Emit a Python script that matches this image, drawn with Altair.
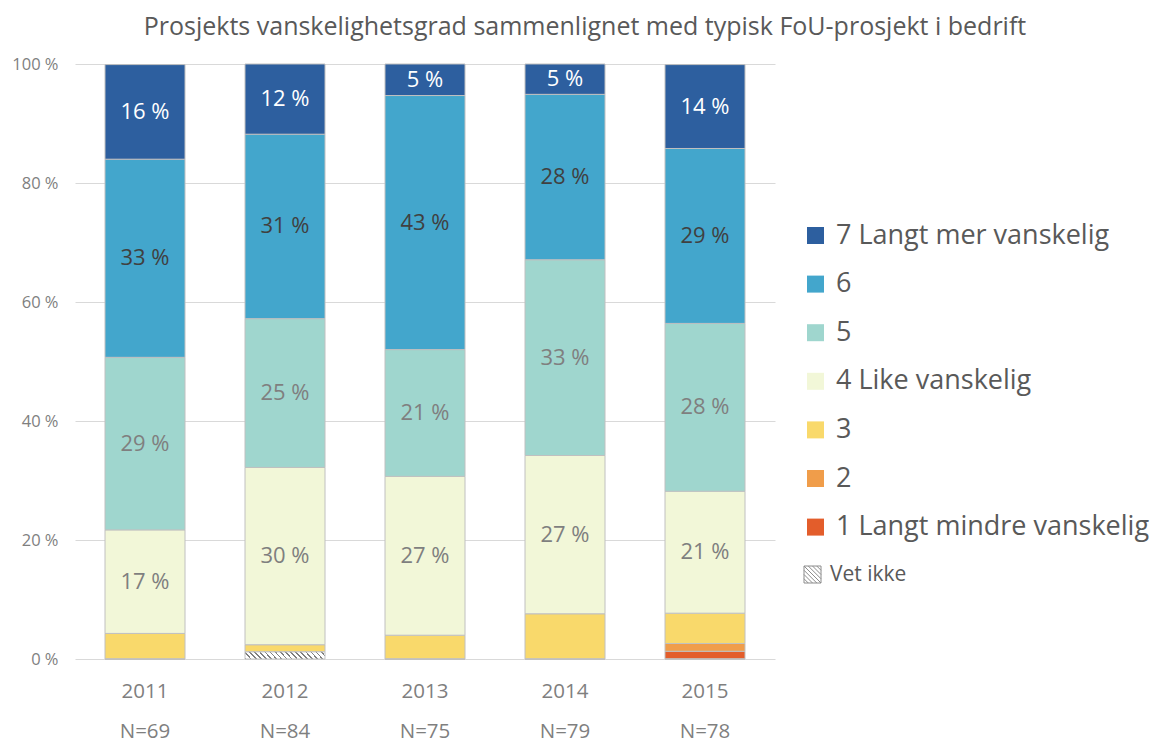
import altair as alt
import pandas as pd

years = ["2011", "2012", "2013", "2014", "2015"]
ns = [69, 84, 75, 79, 78]

categories = [
    "Vet ikke",
    "1 Langt mindre vanskelig",
    "2",
    "3",
    "4 Like vanskelig",
    "5",
    "6",
    "7 Langt mer vanskelig",
]
vet_ikke = [0.0, 1.2, 0.0, 0.0, 0.0]
c1 = [0.0, 0.0, 0.0, 0.0, 1.3]
c2 = [0.0, 0.0, 0.0, 0.0, 1.3]
c3 = [4.3, 1.2, 4.0, 7.6, 5.1]
c4 = [17.4, 29.8, 26.7, 26.6, 20.5]
c5 = [29.0, 25.0, 21.3, 32.9, 28.2]
c6 = [33.3, 31.0, 42.7, 27.8, 29.4]
c7 = [15.9, 11.9, 5.3, 5.1, 14.1]
series = [vet_ikke, c1, c2, c3, c4, c5, c6, c7]

legend_order = [
    "7 Langt mer vanskelig", "6", "5", "4 Like vanskelig", "3", "2",
    "1 Langt mindre vanskelig",
]
legend_colors = ["#2d5f9f", "#43a6cc", "#9fd6ce", "#f2f7d8", "#f9d96b", "#f09d4a", "#e35d2b"]

labelled = ["4 Like vanskelig", "5", "6", "7 Langt mer vanskelig"]
text_colors = {"7 Langt mer vanskelig": "#ffffff", "6": "#404040",
               "5": "#7f7f7f", "4 Like vanskelig": "#7f7f7f"}

rows = []
for ci, (cat, vals) in enumerate(zip(categories, series)):
    for yi, (yr, n) in enumerate(zip(years, ns)):
        rows.append({
            "year": f"{yr}|N={n}",
            "cat": cat,
            "order": ci,
            "value": vals[yi],
            "tcolor": text_colors.get(cat, "#7f7f7f"),
            "show": cat in labelled,
        })
df = pd.DataFrame(rows)

FONT = "Open Sans"
GRAY = "#7f7f7f"

# diagonal hatch as hard-stop gradient
stops = []
nper = 17
for k in range(nper):
    o0 = k / nper
    o1 = (k + 0.32) / nper
    o2 = (k + 1) / nper
    stops += [
        alt.GradientStop(color="#7f7f7f", offset=o0),
        alt.GradientStop(color="#7f7f7f", offset=o1),
        alt.GradientStop(color="#ffffff", offset=o1),
        alt.GradientStop(color="#ffffff", offset=o2),
    ]
hatch = alt.LinearGradient(gradient="linear", stops=stops,
                           x1=-0.04, y1=0.5, x2=1.04, y2=0.41)

# square with "\" stripes (top-left to bottom-right)
hatch_path = ("M-1,-1L1,1M-1,-0.5L0.5,1M-1,0L0,1M-1,0.5L-0.5,1"
              "M-0.5,-1L1,0.5M0,-1L1,0M0.5,-1L1,-0.5"
              "M-1,-1L1,-1L1,1L-1,1Z")

x_enc = alt.X(
    "year:N", sort=None, title=None,
    scale=alt.Scale(paddingInner=60 / 140, paddingOuter=30 / 140),
    axis=alt.Axis(labelExpr="split(datum.label, '|')", labelAngle=0,
                  labelFontSize=20.5, labelColor=GRAY, labelFont=FONT,
                  labelLineHeight=40, labelPadding=22, ticks=False,
                  domain=False, grid=False),
)

base = alt.Chart(df).transform_stack(
    stack="value", groupby=["year"], as_=["y0", "y1"],
    sort=[alt.SortField("order", order="ascending")],
).transform_calculate(ymid="(datum.y0 + datum.y1) / 2")

y_enc = alt.Y(
    "y0:Q", title=None,
    scale=alt.Scale(domain=[0, 100], nice=False, clamp=True),
    axis=alt.Axis(values=[0, 20, 40, 60, 80, 100],
                  labelExpr="datum.value + ' %'", labelFontSize=16.5,
                  labelColor=GRAY, labelFont=FONT, labelPadding=17,
                  ticks=False, domain=False, grid=True,
                  gridColor="#d9d9d9", gridWidth=1.2),
)

bars = base.transform_filter("datum.cat != 'Vet ikke'").mark_bar(
    stroke="#c0c0c0", strokeWidth=1
).encode(
    x=x_enc,
    y=y_enc,
    y2="y1:Q",
    color=alt.Color(
        "cat:N",
        scale=alt.Scale(domain=legend_order, range=legend_colors),
        legend=alt.Legend(
            title=None, orient="none", legendX=727, legendY=158,
            symbolType="square", symbolSize=289, symbolStrokeWidth=0,
            labelFontSize=27, labelColor="#595959", labelFont=FONT,
            rowPadding=20.6, labelOffset=7, labelLimit=400,
        ),
    ),
)

vet = base.transform_filter("datum.cat == 'Vet ikke'").mark_bar(
    fill=hatch, stroke="#c0c0c0", strokeWidth=1
).encode(
    x=x_enc,
    y=y_enc,
    y2="y1:Q",
)

# point layer with no rows: it only carries the "Vet ikke" legend entry
vet_key = base.transform_filter(
    "datum.cat == 'Vet ikke' && datum.value < 0"
).mark_point(
    shape=hatch_path, filled=False, stroke="#8c8c8c", strokeWidth=1, size=289
).encode(
    x=x_enc,
    y=alt.Y("ymid:Q"),
    opacity=alt.Opacity(
        "cat:N",
        scale=alt.Scale(domain=["Vet ikke"], range=[1]),
        legend=alt.Legend(
            title=None, orient="none", legendX=727, legendY=500,
            symbolType=hatch_path, symbolSize=289, symbolOpacity=1,
            symbolStrokeColor="#8c8c8c", symbolStrokeWidth=1,
            labelFontSize=21, labelColor="#595959",
            labelFont=FONT, labelOffset=7,
        ),
    ),
)

labels = base.transform_filter("datum.show").transform_calculate(
    lab="format(datum.value, '.0f') + ' %'"
).mark_text(fontSize=22, font=FONT).encode(
    x=x_enc,
    y=alt.Y("ymid:Q"),
    text="lab:N",
    fill=alt.Fill("tcolor:N", scale=None),
)

chart = alt.layer(bars, vet, vet_key, labels).properties(
    width=700,
    height=595,
    autosize="none",
    padding={"left": 67, "top": 56, "right": 375, "bottom": 85},
    title=alt.TitleParams(
        "Prosjekts vanskelighetsgrad sammenlignet med typisk FoU-prosjekt i bedrift",
        fontSize=25, color="#595959", font=FONT, fontWeight="normal",
        anchor="middle", dx=160, offset=16,
    ),
).configure_view(stroke=None)

chart.save("out.html", embed_options={"renderer": "svg", "actions": False})
